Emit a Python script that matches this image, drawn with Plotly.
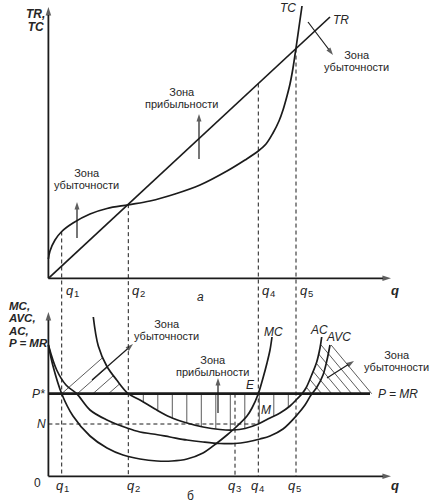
import numpy as np
import plotly.graph_objects as go

# ---------------- data ----------------
q_digits = ["1", "2", "3", "4", "5"]
q_values = [1.33, 7.99, 18.66, 20.99, 24.76]

# panel a: total revenue (straight line) and total cost
tr_q = [0.0, 28.16]
tr_v = [0.0, 26.13]
tc_q = [0.0, 0.16, 0.66, 1.33, 2.46, 4.16, 5.86, 7.99, 10.16, 12.66, 15.16, 17.86,
        19.66, 20.99, 21.76, 22.46, 23.06, 23.46, 23.86, 24.16, 24.46, 24.76, 25.06, 25.36]
tc_v = [1.93, 2.73, 3.83, 4.68, 5.53, 6.43, 6.98, 7.35, 7.73, 8.43, 9.33, 10.73,
        11.83, 12.73, 13.43, 14.53, 15.73, 16.83, 18.23, 19.43, 21.03, 23.03, 25.13, 27.23]

# panel б: unit costs and price
price = 8.26      # P* = MR
n_level = 5.23    # N
mc_q = [0.0, 0.46, 1.33, 2.46, 4.16, 5.86, 7.46, 9.16, 10.86, 12.36, 13.86, 15.46, 16.86,
        17.86, 18.66, 19.86, 20.36, 20.99, 21.46, 21.86, 22.16, 22.36]
mc_v = [13.13, 11.03, 8.26, 6.03, 4.03, 2.83, 2.13, 1.73, 1.53, 1.53, 1.73, 2.33, 3.33,
        4.13, 4.83, 6.03, 6.83, 8.26, 9.83, 11.33, 12.63, 13.93]
avc_q = [0.0, 0.83, 1.76, 2.83, 4.16, 5.86, 7.86, 9.16, 10.46, 12.16, 13.86, 15.46, 17.16,
         18.66, 19.86, 21.16, 22.16, 23.46, 24.86, 25.66, 26.26, 26.86, 27.46, 27.86, 28.16]
avc_v = [13.13, 10.63, 9.13, 8.26, 6.63, 5.63, 4.83, 4.43, 4.23, 3.93, 3.63, 3.43, 3.28,
         3.28, 3.43, 3.73, 4.03, 4.73, 6.13, 7.13, 8.13, 8.93, 10.13, 11.63, 13.13]
ac_q = [4.49, 4.99, 5.83, 6.83, 7.99, 9.16, 10.66, 12.16, 13.86, 15.46, 17.16, 18.46, 19.66,
        20.99, 22.16, 23.16, 24.16, 24.86, 25.36, 25.76, 26.33, 26.83, 27.16, 27.33]
ac_v = [15.93, 13.03, 11.03, 9.63, 8.26, 7.63, 6.73, 5.93, 5.33, 4.93, 4.68, 4.63, 4.78,
        5.23, 5.83, 6.33, 7.03, 7.73, 8.26, 8.83, 10.13, 11.43, 12.83, 13.93]

# ---------------- layout helpers (10 px per unit) ----------------
W, H = 434, 503
OX, OY_TOP, OY_BOT = 48.4, 278.3, 476.3   # pixel origins of the two panels


def X(px):
    return (px - OX) / 10.0


def YT(py):
    return (OY_TOP - py) / 10.0


def YB(py):
    return (OY_BOT - py) / 10.0


GAP = (OY_BOT - OY_TOP) / 10.0   # bottom-panel zero expressed in top units is -GAP

INK = "#1b1b1b"
TXT = "#262626"
FONT = "Liberation Sans"

fig = go.Figure()


def line(xs, ys, axis="y", width=1.7, color=INK, dash=None, shape="linear"):
    fig.add_trace(go.Scatter(x=xs, y=ys, yaxis=axis, mode="lines", hoverinfo="skip",
                             line=dict(color=color, width=width, dash=dash, shape=shape,
                                       smoothing=1.0)))


def arrow(x0, y0, x1, y1, axis="y", width=1.2, head=8):
    fig.add_trace(go.Scatter(x=[x0, x1], y=[y0, y1], yaxis=axis, mode="lines+markers",
                             hoverinfo="skip", line=dict(color=INK, width=width),
                             marker=dict(symbol="arrow", angleref="previous",
                                         size=[0, head], color=INK,
                                         line=dict(width=0))))


# ---------------- hatching (derived from the AC curve) ----------------
hx, hy = [], []
i_min = int(np.argmin(ac_v))
qq = np.linspace(ac_q[0], ac_q[i_min], 4000)
acd = np.interp(qq, ac_q, ac_v)
slope_l = 0.88
for k in range(4):
    s = q_values[0] + 1.56 * k
    ln = price + slope_l * (qq - s)
    m = (qq >= s) & (ln >= acd)
    if m.any():
        xe = qq[m][0]
        hx += [s, xe, None]
        hy += [price, price + slope_l * (xe - s), None]
for k in range(11):
    xv = 9.49 + 1.45 * k
    hx += [xv, xv, None]
    hy += [price, float(np.interp(xv, ac_q, ac_v)), None]
qr = np.linspace(ac_q[i_min], ac_q[-1], 4000)
acr = np.interp(qr, ac_q, ac_v)
slope_r = 1.2
cap = avc_v[-1]
for k in range(7):
    e = 32.33 - 1.0 * k
    ln = price + slope_r * (e - qr)
    m = (qr <= e) & (ln >= acr)
    q_int = qr[m][-1] if m.any() else ac_q[-1]
    q_cap = e - (cap - price) / slope_r
    xe = max(q_int, q_cap)
    hx += [e, xe, None]
    hy += [price, price + slope_r * (e - xe), None]
line(hx, hy, axis="y2", width=0.9, color="#4a4a4a")

# ---------------- dashed guides ----------------
DASH = "4px,3px"
tops = [float(np.interp(q_values[0], tc_q, tc_v)),
        float(np.interp(q_values[1], tr_q, tr_v)),
        None,
        float(np.interp(q_values[3], tr_q, tr_v)),
        float(np.interp(q_values[4], tr_q, tr_v))]
for qv, tv in zip(q_values, tops):
    if tv is None:
        line([qv, qv], [price, 0], axis="y2", width=1, dash=DASH)
    else:
        line([qv, qv], [tv, -GAP], axis="y", width=1, dash=DASH)
line([0, q_values[3]], [n_level, n_level], axis="y2", width=1, dash=DASH)

# ---------------- curves ----------------
line(tr_q, tr_v, axis="y", width=1.7)
line(tc_q, tc_v, axis="y", width=1.7, shape="spline")
line(mc_q, mc_v, axis="y2", width=1.7, shape="spline")
line(avc_q, avc_v, axis="y2", width=1.7, shape="spline")
line(ac_q, ac_v, axis="y2", width=1.7, shape="spline")
line([0, X(370)], [price, price], axis="y2", width=2.8)

# ---------------- axes and arrows ----------------
arrow(0, 0, 0, YT(7), width=1.8, head=9)
arrow(0, 0, X(391), 0, width=1.8, head=9)
arrow(0, 0, 0, YB(312), axis="y2", width=1.8, head=9)
arrow(0, 0, X(391), 0, axis="y2", width=1.8, head=9)
arrow(X(77), YT(238), X(77), YT(202))
arrow(X(199), YT(159), X(199), YT(114))
arrow(X(308), YT(22), X(333), YT(55))
arrow(X(92), YB(380), X(133), YB(344), axis="y2")
arrow(X(218), YB(413), X(218), YB(378), axis="y2")
arrow(X(327), YB(378), X(354), YB(361), axis="y2")

ann = []


def text(s, px, py, panel="t", size=12, anchor="center"):
    ann.append(dict(x=X(px), y=(YT(py) if panel == "t" else YB(py)), xref="x",
                    yref=("y" if panel == "t" else "y2"), text=s, showarrow=False,
                    xanchor=anchor, yanchor="middle",
                    font=dict(family=FONT, size=size, color=TXT)))


def block(lines, px, py, panel="t", size=11, step=12.3, anchor="center", wrap=("", "")):
    base = step / 1.3
    body = "<br>".join('<span style="font-size:%spx">%s%s%s</span>' % (size, wrap[0], s, wrap[1])
                       for s in lines)
    ann.append(dict(x=X(px), y=(YT(py) if panel == "t" else YB(py)), xref="x",
                    yref=("y" if panel == "t" else "y2"), text=body, showarrow=False,
                    xanchor=anchor, yanchor="middle", align=anchor if anchor != "center" else "center",
                    font=dict(family=FONT, size=base, color=TXT)))


def qlabel(digit, px, py, panel):
    text("<i>q</i>", px - 3.5, py - 1, panel=panel, size=13)
    text(digit, px + 3.8, py + 2.5, panel=panel, size=9.5)


# panel a texts
block(["TR,", "TC"], 35, 20.5, size=12, step=13, wrap=("<b><i>", "</i></b>"))
text("<i>TC</i>", 288, 8)
text("<i>TR</i>", 341, 20)
for d, px in zip(["1", "2", "4", "5"], [73, 139, 269, 307]):
    qlabel(d, px, 291, "t")
text("<i>a</i>", 200, 297)
text("<b><i>q</i></b>", 395, 290, size=13)
block(["Зона", "убыточности"], 356, 61)
block(["Зона", "прибыльности"], 181, 98)
block(["Зона", "убыточности"], 86, 179)

# panel б texts
block(["MC,", "AVC,", "AC,", "P = MR"], 6, 324.5, panel="b", size=11.5, step=12.4,
      anchor="left", wrap=("<b><i>", "</i></b>"))
text("<i>P*</i>", 38, 394, panel="b")
text("<i>N</i>", 41, 424, panel="b")
text("0", 37, 483, panel="b")
for d, px in zip(q_digits, [63, 134, 235, 258, 295]):
    qlabel(d, px, 486, "b")
text("б", 190, 496, panel="b")
text("<b><i>q</i></b>", 395, 485, panel="b", size=13)
text("<i>MC</i>", 273, 332, panel="b")
text("<i>AC</i>", 319, 330, panel="b")
text("<i>AVC</i>", 338, 337, panel="b")
text("<i>E</i>", 250, 385, panel="b")
text("<i>M</i>", 266, 410, panel="b")
text("<i>P = MR</i>", 398, 394, panel="b")
block(["Зона", "убыточности"], 166, 329.5, panel="b")
block(["Зона", "прибыльности"], 212, 366, panel="b")
block(["Зона", "убыточности"], 396, 361, panel="b")

fig.update_layout(
    width=W, height=H, autosize=False,
    margin=dict(l=0, r=0, t=0, b=0, pad=0),
    paper_bgcolor="white", plot_bgcolor="white",
    showlegend=False,
    xaxis=dict(range=[X(0), X(W)], visible=False, fixedrange=True),
    yaxis=dict(range=[YT(H), YT(0)], visible=False, fixedrange=True),
    yaxis2=dict(range=[YB(H), YB(0)], visible=False, fixedrange=True, overlaying="y"),
    annotations=ann,
)

fig.write_html("out.html", config={"displayModeBar": False, "staticPlot": True},
               post_script="document.body.style.margin='0';document.body.style.overflow='hidden';")
